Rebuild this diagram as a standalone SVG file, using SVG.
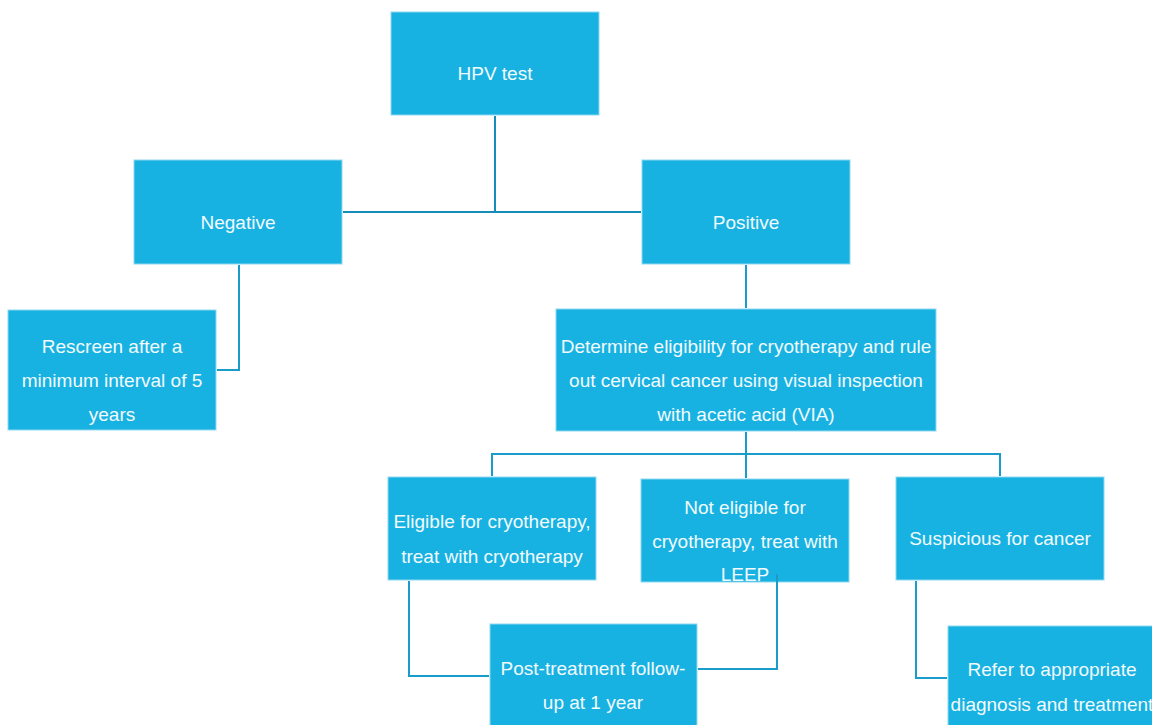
<svg xmlns="http://www.w3.org/2000/svg" width="1152" height="725" viewBox="0 0 1152 725">
<style>
.box{fill:#17b2e2;stroke:#8fd8f0;stroke-width:1}
.t{font-family:"Liberation Sans",Arial,sans-serif;font-size:19px;fill:#f2fafd;text-anchor:middle;dominant-baseline:central}
.c{fill:none;stroke:#1a9ccb;stroke-width:2}
.c2{fill:none;stroke:#168db8;stroke-width:2}
</style>
<rect width="1152" height="725" fill="#ffffff"/>
<g id="hpv"><rect class="box" x="391" y="12" width="208" height="103"/><text class="t" x="495" y="73">HPV test</text></g>
<g id="negative"><rect class="box" x="134" y="160" width="208" height="104"/><text class="t" x="238" y="222">Negative</text></g>
<g id="positive"><rect class="box" x="642" y="160" width="208" height="104"/><text class="t" x="746" y="222">Positive</text></g>
<g id="rescreen"><rect class="box" x="8" y="310" width="208" height="120"/>
<text class="t" x="112" y="346">Rescreen after a</text>
<text class="t" x="112" y="380">minimum interval of 5</text>
<text class="t" x="112" y="414">years</text></g>
<g id="determine"><rect class="box" x="556" y="309" width="380" height="122"/>
<text class="t" x="746" y="346">Determine eligibility for cryotherapy and rule</text>
<text class="t" x="746" y="380">out cervical cancer using visual inspection</text>
<text class="t" x="746" y="414">with acetic acid (VIA)</text></g>
<g id="eligible"><rect class="box" x="388" y="477" width="208" height="103"/>
<text class="t" x="492" y="521">Eligible for cryotherapy,</text>
<text class="t" x="492" y="556">treat with cryotherapy</text></g>
<g id="noteligible"><rect class="box" x="641" y="479" width="208" height="103"/>
<text class="t" x="745" y="507">Not eligible for</text>
<text class="t" x="745" y="541">cryotherapy, treat with</text>
<text class="t" x="745" y="574">LEEP</text></g>
<g id="suspicious"><rect class="box" x="896" y="477" width="208" height="103"/>
<text class="t" x="1000" y="538">Suspicious for cancer</text></g>
<g id="posttreatment"><rect class="box" x="490" y="624" width="207" height="110"/>
<text class="t" x="593" y="668">Post-treatment follow-</text>
<text class="t" x="593" y="702">up at 1 year</text></g>
<g id="refer"><rect class="box" x="948" y="626" width="208" height="110"/>
<text class="t" x="1052" y="669">Refer to appropriate</text>
<text class="t" x="1052" y="704">diagnosis and treatment</text></g>
<g id="connectors">
<path class="c2" d="M495 116 V212 M343 212 H641"/>
<path class="c" d="M239 265 V370 H217"/>
<path class="c" d="M746 265 V308"/>
<path class="c" d="M746 432 V478 M492 476 V454 H1000 V476"/>
<path class="c" d="M409 581 V676 H489"/>
<path class="c" d="M777 574 V669 H698"/>
<path class="c" d="M916 581 V678 H947"/>
</g>
</svg>
